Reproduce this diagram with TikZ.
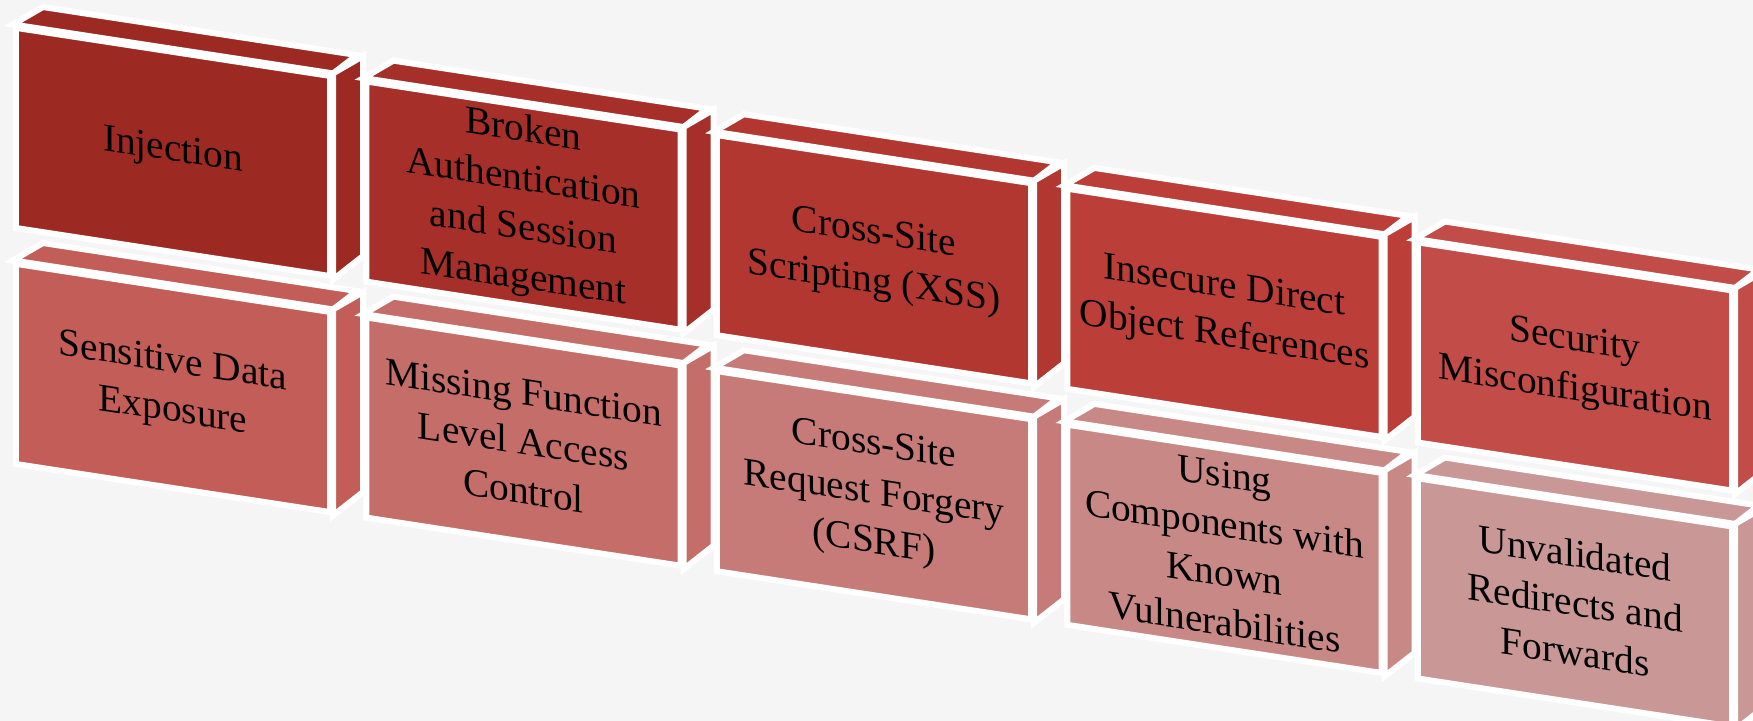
\documentclass[tikz,border=0pt]{standalone}
\usepackage{fontspec}
\setmainfont{Liberation Serif}
\usepackage{tikz}

\definecolor{paper}{HTML}{F5F5F5}
\definecolor{riskA}{HTML}{9C2A22}
\definecolor{riskB}{HTML}{A62F29}
\definecolor{riskC}{HTML}{B13730}
\definecolor{riskD}{HTML}{BC3E39}
\definecolor{riskE}{HTML}{C24C48}
\definecolor{riskF}{HTML}{C25D58}
\definecolor{riskG}{HTML}{C46D69}
\definecolor{riskH}{HTML}{C67B79}
\definecolor{riskI}{HTML}{C88986}
\definecolor{riskJ}{HTML}{CA9797}

\begin{document}
\begin{tikzpicture}[x=0.01cm,y=-0.01cm,
    face/.style={draw=white,line width=1.7pt,line join=miter},
    brick/.style={face,fill=#1,transform shape,minimum width=3.14cm,
      minimum height=2cm,inner sep=0pt,align=center,
      font=\fontsize{11.2}{14}\selectfont}]
  \fill[paper] (0,0) rectangle (1753,721);
  \clip (0,0) rectangle (1753,721);
  % sheared frame: every column drops to the right
  \begin{scope}[cm={1,-0.153,0,1,(0,0)}]
    \node[brick=riskA] (inj)     at (173,125.5)    {Injection};
    \node[brick=riskB] (auth)    at (523.5,125.5)  {Broken\\Authentication\\and Session\\Management};
    \node[brick=riskC] (xss)     at (874,125.5)    {Cross-Site\\Scripting (XSS)};
    \node[brick=riskD] (idor)    at (1224.5,125.5) {Insecure Direct\\Object References};
    \node[brick=riskE] (misconf) at (1575,125.5)   {Security\\Misconfiguration};
    \node[brick=riskF] (sde)     at (173,361.5)    {Sensitive Data\\Exposure};
    \node[brick=riskG] (mflac)   at (523.5,361.5)  {Missing Function\\Level Access\\Control};
    \node[brick=riskH] (csrf)    at (874,361.5)    {Cross-Site\\Request Forgery\\(CSRF)};
    \node[brick=riskI] (vuln)    at (1224.5,361.5) {Using\\Components with\\Known\\Vulnerabilities};
    \node[brick=riskJ] (redir)   at (1575,361.5)   {Unvalidated\\Redirects and\\Forwards};

    % top and side faces
    \foreach \n/\c in {inj/riskA,auth/riskB,xss/riskC,idor/riskD,misconf/riskE,
                       sde/riskF,mflac/riskG,csrf/riskH,vuln/riskI,redir/riskJ} {
      \draw[face,fill=\c] (\n.north west) -- ++(30,-22) -- ++(314,0) -- (\n.north east) -- cycle;
      \draw[face,fill=\c] (\n.north east) -- ++(30,-22) -- ++(0,200) -- (\n.south east) -- cycle;
    }
  \end{scope}
\end{tikzpicture}
\end{document}
